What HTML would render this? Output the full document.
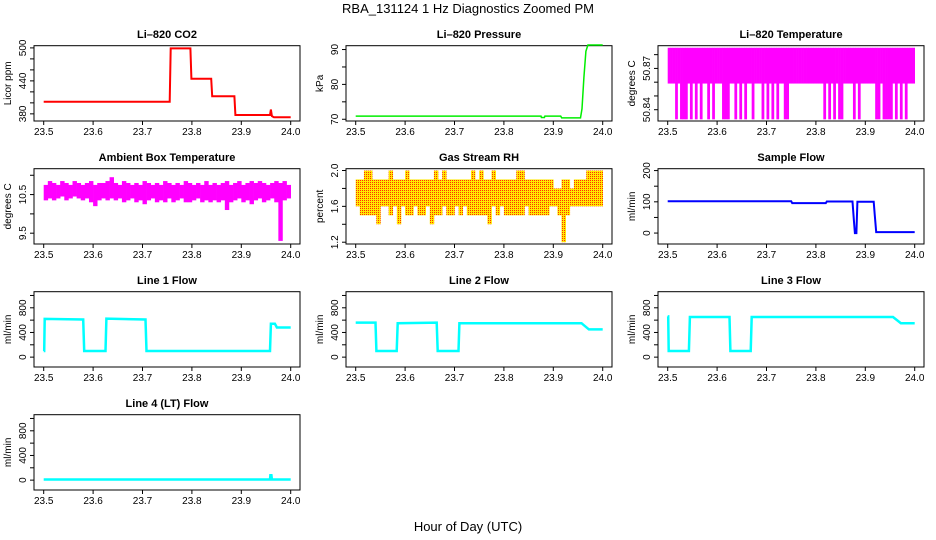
<!DOCTYPE html>
<html><head><meta charset="utf-8"><style>
body{margin:0;background:#fff}
svg{display:block;font-family:"Liberation Sans",Arial,sans-serif}
</style></head><body>
<svg id="c" width="936" height="540" viewBox="0 0 936 540" xmlns="http://www.w3.org/2000/svg">
<defs>
<pattern id="rhpat" width="2" height="2" patternUnits="userSpaceOnUse">
<rect width="2" height="2" fill="#ffe800"/><rect width="1" height="1" fill="#ff3000"/>
</pattern>
</defs>
<text x="468" y="13" text-anchor="middle" font-size="13">RBA_131124  1 Hz Diagnostics Zoomed PM</text>
<text x="468" y="531" text-anchor="middle" font-size="13">Hour of Day (UTC)</text>
</svg>
<script>
// ---- data ----
const xTicks = [23.5, 23.6, 23.7, 23.8, 23.9, 24.0];
const xTickLabels = ["23.5", "23.6", "23.7", "23.8", "23.9", "24.0"];

const co2T = [23.5, 23.755, 23.757, 23.797, 23.799, 23.839, 23.841, 23.886, 23.888, 23.958, 23.960, 23.962, 23.966, 24.0];
const co2V = [402, 402, 499, 499, 444, 444, 412, 412, 378, 378, 388, 376, 374, 374];

const presT = [23.5, 23.875, 23.876, 23.882, 23.883, 23.915, 23.917, 23.955, 23.958, 23.962, 23.966, 23.97, 24.0];
const presV = [70.9, 70.9, 70.5, 70.5, 70.9, 70.9, 70.4, 70.4, 73, 82, 89.5, 91.3, 91.3];

const liTempHi = [50.885,50.885,50.885,50.885,50.885,50.885,50.885,50.885,50.885,50.885,50.885,50.885,50.885,50.885,50.885,50.885,50.885,50.885,50.885,50.885,50.885,50.885,50.885,50.885,50.885,50.885,50.885,50.885,50.885,50.885,50.885,50.885,50.885,50.885,50.885,50.885,50.885,50.885,50.885,50.885,50.885,50.885,50.885,50.885,50.885,50.885,50.885,50.885,50.885,50.885,50.885,50.885,50.885,50.885,50.885,50.885,50.885,50.885,50.885,50.885,50.885,50.885,50.885,50.885,50.885,50.885,50.885,50.885,50.885,50.885,50.885,50.885,50.885,50.885,50.885,50.885,50.885,50.885,50.885,50.885,50.885,50.885,50.885,50.885,50.885,50.885,50.885,50.885,50.885,50.885,50.885,50.885,50.885,50.885,50.885,50.885,50.885,50.885,50.885,50.885];
const liTempLo = [50.859,50.859,50.859,50.833,50.859,50.833,50.833,50.833,50.859,50.833,50.859,50.833,50.859,50.833,50.859,50.859,50.833,50.859,50.833,50.859,50.859,50.859,50.833,50.833,50.833,50.859,50.859,50.833,50.859,50.833,50.859,50.833,50.859,50.859,50.833,50.859,50.859,50.859,50.833,50.859,50.833,50.859,50.833,50.859,50.833,50.859,50.859,50.833,50.833,50.859,50.859,50.859,50.859,50.859,50.859,50.859,50.859,50.859,50.859,50.859,50.859,50.859,50.859,50.833,50.859,50.833,50.859,50.833,50.859,50.833,50.833,50.859,50.859,50.859,50.859,50.833,50.859,50.833,50.859,50.859,50.859,50.859,50.859,50.859,50.833,50.833,50.859,50.833,50.833,50.833,50.833,50.859,50.833,50.859,50.833,50.859,50.833,50.859,50.859,50.859];

const ambHi = [10.75,10.85,10.8,10.75,10.85,10.8,10.75,10.85,10.8,10.75,10.8,10.85,10.75,10.8,10.8,10.85,10.95,10.8,10.75,10.85,10.8,10.75,10.8,10.75,10.85,10.8,10.75,10.8,10.75,10.85,10.8,10.75,10.8,10.75,10.85,10.8,10.75,10.8,10.75,10.85,10.75,10.8,10.75,10.8,10.85,10.75,10.8,10.85,10.75,10.8,10.85,10.8,10.85,10.8,10.75,10.8,10.85,10.8,10.85,10.75];
const ambLo = [10.35,10.4,10.35,10.4,10.45,10.35,10.4,10.45,10.4,10.35,10.4,10.3,10.2,10.35,10.4,10.35,10.4,10.35,10.4,10.3,10.35,10.4,10.3,10.35,10.25,10.35,10.4,10.3,10.35,10.3,10.4,10.3,10.35,10.4,10.3,10.3,10.35,10.4,10.3,10.35,10.3,10.35,10.3,10.35,10.1,10.3,10.35,10.4,10.3,10.35,10.25,10.35,10.4,10.3,10.35,10.4,10.3,9.3,10.35,10.4];

const rhHi = [1.9,1.9,2.0,2.0,1.9,1.9,1.9,1.9,2.0,1.9,1.9,1.9,2.0,1.9,1.9,1.9,1.9,1.9,1.9,2.0,1.9,2.0,1.9,1.9,1.9,1.9,1.9,1.9,2.0,1.9,2.0,1.9,1.9,2.0,1.9,1.9,1.9,1.9,1.9,2.0,2.0,1.9,1.9,1.9,1.9,1.9,1.9,1.9,1.8,1.8,1.9,1.9,1.8,1.9,1.9,1.9,2.0,2.0,2.0,2.0];
const rhLo = [1.6,1.5,1.5,1.5,1.5,1.4,1.6,1.6,1.5,1.6,1.4,1.6,1.5,1.5,1.6,1.5,1.5,1.6,1.4,1.5,1.5,1.6,1.5,1.5,1.6,1.5,1.6,1.5,1.5,1.5,1.5,1.5,1.4,1.6,1.5,1.6,1.5,1.5,1.5,1.5,1.5,1.6,1.5,1.5,1.5,1.5,1.5,1.6,1.6,1.5,1.2,1.5,1.6,1.6,1.6,1.6,1.6,1.6,1.6,1.6];

const sfT = [23.5, 23.75, 23.752, 23.82, 23.822, 23.874, 23.877, 23.879, 23.882, 23.884, 23.917, 23.919, 23.922, 24.0];
const sfV = [102, 102, 96, 96, 101, 101, 40, 0, 0, 100, 100, 60, 3, 3];

const l1T = [23.5, 23.501, 23.502, 23.58, 23.582, 23.625, 23.627, 23.706, 23.708, 23.958, 23.960, 23.968, 23.972, 24.0];
const l1V = [100, 100, 620, 610, 100, 100, 625, 610, 100, 100, 540, 540, 480, 480];
const l2T = [23.5, 23.540, 23.542, 23.583, 23.585, 23.664, 23.666, 23.708, 23.710, 23.957, 23.972, 24.0];
const l2V = [560, 560, 100, 100, 550, 560, 100, 100, 550, 550, 450, 450];
const l3T = [23.5, 23.501, 23.502, 23.543, 23.545, 23.625, 23.627, 23.668, 23.670, 23.956, 23.972, 24.0];
const l3V = [660, 660, 100, 100, 650, 650, 100, 100, 650, 650, 550, 550];
const l4T = [23.5, 23.958, 23.959, 23.961, 23.962, 24.0];
const l4V = [10, 10, 80, 80, 10, 10];

// ---- drawing ----
const svg = document.getElementById('c');
const NS = 'http://www.w3.org/2000/svg';
function mk(tag, attrs, parent){const e=document.createElementNS(NS,tag);for(const k in attrs)e.setAttribute(k,attrs[k]);(parent||svg).appendChild(e);return e;}

function panel(col,row,name,title,ylab,ymin,ymax,yticks,ylabels){
  const ox=col*312, oy=row*123;
  const g=mk('g',{});
  
  
  const L=ox+34,R=ox+300,T=oy+45.7,B=oy+121;
  const xs=v=>ox+43.7+(v-23.5)/0.5*247;
  const ys=v=>B-(v-ymin)/(ymax-ymin)*(B-T);
  const t=mk('text',{x:ox+167,y:oy+38,'text-anchor':'middle','font-size':'11','font-weight':'bold'},g);
  t.textContent=title;
  
  
  const box=mk('rect',{x:L,y:T,width:R-L,height:B-T,fill:'none',stroke:'#000','stroke-width':1},g);
  
  
  const xa=mk('g',{},g);
  
  
  xTicks.forEach((v,i)=>{
    mk('line',{x1:xs(v),x2:xs(v),y1:B,y2:B+4,stroke:'#000'},xa);
    const l=mk('text',{x:xs(v),y:B+14,'text-anchor':'middle','font-size':'10'},xa);
    l.textContent=xTickLabels[i];
  });
  const ya=mk('g',{},g);
  
  
  yticks.forEach((v,i)=>{
    mk('line',{x1:L,x2:L-4,y1:ys(v),y2:ys(v),stroke:'#000'},ya);
    if(ylabels[i]){
      const l=mk('text',{x:0,y:0,'text-anchor':'middle','font-size':'10',transform:`translate(${L-8},${ys(v)}) rotate(-90)`},ya);
      l.textContent=ylabels[i];
    }
  });
  const yl=mk('text',{x:0,y:0,'text-anchor':'middle','font-size':'10',transform:`translate(${ox+11},${(T+B)/2}) rotate(-90)`},g);
  yl.textContent=ylab;
  
  
  return {g,xs,ys};
}
function line(p,name,T,V,color,w){
  const pts=T.map((t,i)=>p.xs(t).toFixed(1)+','+p.ys(V[i]).toFixed(1)).join(' ');
  const e=mk('polyline',{points:pts,fill:'none',stroke:color,'stroke-width':w,'stroke-linejoin':'miter'},p.g);
  
  
}
function band(p,name,lo,hi,color){
  const gg=mk('g',{},p.g);
  
  
  const n=lo.length;
  for(let i=0;i<n;i++){
    const x0=p.xs(23.5+i*0.5/n), x1=p.xs(23.5+(i+1)*0.5/n);
    const y0=p.ys(hi[i]), y1=p.ys(lo[i]);
    mk('rect',{x:x0,y:y0,width:x1-x0+0.3,height:Math.max(1,y1-y0),fill:color},gg);
  }
  return gg;
}

let p;
p=panel(0,0,'co2','Li\u2013820 CO2','Licor ppm',367,504,[380,400,420,440,460,480,500],['380','','','440','','','500']);
line(p,'co2-line',co2T,co2V,'#ff0000',2);
p=panel(1,0,'pressure','Li\u2013820 Pressure','kPa',69.5,91.1,[70,75,80,85,90],['70','','80','','90']);
line(p,'pressure-line',presT,presV,'#00ee00',1.5);
p=panel(2,0,'li-temp','Li\u2013820 Temperature','degrees C',50.8318,50.8865,[50.84,50.85,50.86,50.87,50.88],['50.84','','','50.87','']);
band(p,'li-temp-series',liTempLo,liTempHi,'#ff00ff');
p=panel(0,1,'ambient-temp','Ambient Box Temperature','degrees C',9.22,11.17,[9.5,10,10.5,11],['9.5','','10.5','']);
band(p,'ambient-temp-series',ambLo,ambHi,'#ff00ff');
p=panel(1,1,'gas-rh','Gas Stream RH','percent',1.18,2.02,[1.2,1.4,1.6,1.8,2.0],['1.2','','1.6','','2.0']);
band(p,'gas-rh-series',rhLo,rhHi,'url(#rhpat)');
p=panel(2,1,'sample-flow','Sample Flow','ml/min',-35,206,[0,50,100,150,200],['0','','100','','200']);
line(p,'sample-flow-line',sfT,sfV,'#0000ff',2);
const flowTicks=[0,200,400,600,800,1000], flowLabels=['0','','400','','800',''];
p=panel(0,2,'line1-flow','Line 1 Flow','ml/min',-160,1061,flowTicks,flowLabels);
line(p,'line1-flow-line',l1T,l1V,'#00ffff',2.5);
p=panel(1,2,'line2-flow','Line 2 Flow','ml/min',-160,1061,flowTicks,flowLabels);
line(p,'line2-flow-line',l2T,l2V,'#00ffff',2.5);
p=panel(2,2,'line3-flow','Line 3 Flow','ml/min',-160,1061,flowTicks,flowLabels);
line(p,'line3-flow-line',l3T,l3V,'#00ffff',2.5);
p=panel(0,3,'line4-flow','Line 4 (LT) Flow','ml/min',-160,1061,flowTicks,flowLabels);
line(p,'line4-flow-line',l4T,l4V,'#00ffff',2.5);
</script>
</body></html>
